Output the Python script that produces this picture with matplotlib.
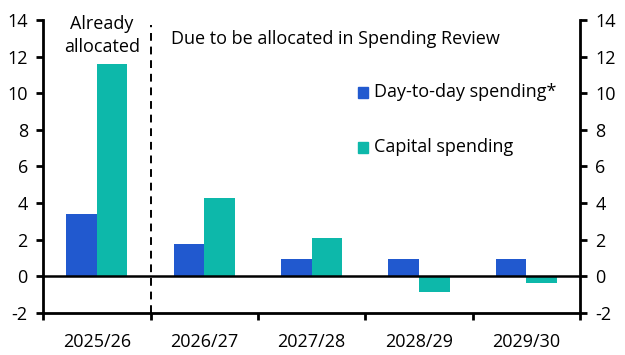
import numpy as np
import matplotlib
matplotlib.use("Agg")
import matplotlib.pyplot as plt
from matplotlib.patches import Rectangle

# data
years = ["2025/26", "2026/27", "2027/28", "2028/29", "2029/30"]
day_to_day = [3.4, 1.75, 0.95, 0.95, 0.95]
capital = [11.6, 4.3, 2.1, -0.85, -0.35]

BLUE = "#2159CF"
TEAL = "#0DB8AA"
FS = 13

plt.rcParams["font.family"] = ["Open Sans", "DejaVu Sans"]
plt.rcParams["font.size"] = FS
plt.rcParams["axes.unicode_minus"] = False

fig = plt.figure(figsize=(6.25, 3.55), dpi=100)
ax = fig.add_axes([0.069, 0.118, 0.859, 0.826])

x = np.arange(len(years))
w = 0.285
ax.bar(x - w / 2, day_to_day, w, color=BLUE)
ax.bar(x + w / 2, capital, w, color=TEAL)

ax.set_xlim(-0.5, len(years) - 0.5)
ax.set_ylim(-2, 14)
ax.set_yticks(range(-2, 15, 2))
ax.axhline(0, color="black", lw=1.8, zorder=3)

# spines
ax.spines["top"].set_visible(False)
for s in ["left", "right", "bottom"]:
    ax.spines[s].set_linewidth(2)

ax.tick_params(axis="y", which="both", left=True, right=True, labelleft=True,
               labelright=True, direction="out", length=5, width=2, pad=6,
               labelsize=FS)
ax.set_xticks(x)
ax.set_xticklabels(years)
ax.set_xticks(np.arange(-0.5, len(years), 1), minor=True)
ax.tick_params(axis="x", which="major", length=0, pad=14, labelsize=FS)
ax.tick_params(axis="x", which="minor", length=5, width=2, direction="out")

# dashed divider
ax.plot([0.5, 0.5], [-2, 13.7], ls=(0, (4, 3)), color="black", lw=1.4,
        clip_on=False, zorder=4)

ax.text(0.05, 13.15, "Already\nallocated", ha="center", va="center",
        fontsize=FS, linespacing=1.3)
ax.text(0.69, 12.95, "Due to be allocated in Spending Review", ha="left",
        va="center", fontsize=FS)

# legend drawn as markers + text
ax.add_patch(Rectangle((2.43, 9.75), 0.1, 0.6, color=BLUE, clip_on=False))
ax.text(2.58, 10.05, "Day-to-day spending*", va="center", fontsize=FS)
ax.add_patch(Rectangle((2.43, 6.75), 0.1, 0.6, color=TEAL, clip_on=False))
ax.text(2.58, 7.05, "Capital spending", va="center", fontsize=FS)

fig.savefig("out.png", dpi=100)
